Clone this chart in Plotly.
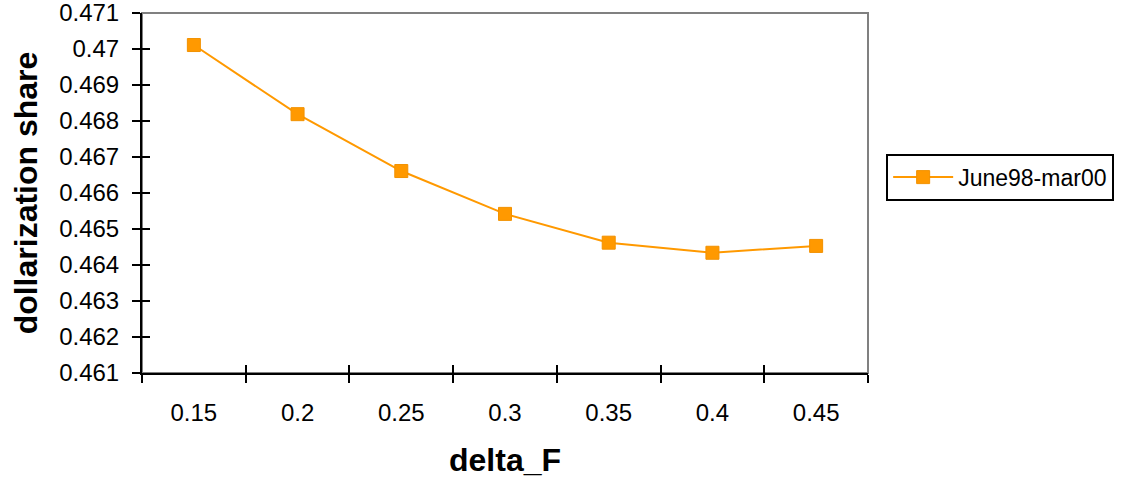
import plotly.graph_objects as go

categories = ["0.15", "0.2", "0.25", "0.3", "0.35", "0.4", "0.45"]
share_values = [0.47011, 0.46819, 0.46661, 0.46542, 0.46462, 0.46434, 0.46453]
series_name = "June98-mar00"
y_ticks = [0.461, 0.462, 0.463, 0.464, 0.465, 0.466, 0.467, 0.468, 0.469, 0.47, 0.471]
y_tick_labels = ["0.461", "0.462", "0.463", "0.464", "0.465", "0.466", "0.467", "0.468", "0.469", "0.47", "0.471"]

ORANGE = "#FF9900"
FONT = "Liberation Sans, Arial, sans-serif"

fig = go.Figure()
fig.add_trace(go.Scatter(
    x=categories, y=share_values, name=series_name,
    mode="lines+markers",
    line=dict(color=ORANGE, width=2),
    marker=dict(symbol="square", size=13, color=ORANGE, line=dict(color="#F29100", width=1)),
))
# invisible trace on overlay axes (for crossing tick marks)
fig.add_trace(go.Scatter(
    x=categories, y=share_values, xaxis="x2", yaxis="y2",
    mode="markers", marker=dict(opacity=0), showlegend=False, hoverinfo="skip",
))

fig.update_layout(
    width=1135, height=478,
    margin=dict(l=142, r=267, t=13, b=105, autoexpand=False),
    paper_bgcolor="white", plot_bgcolor="white",
    font=dict(family=FONT, color="black", size=22),
    showlegend=True,
    legend=dict(
        x=1.025, y=0.544, xanchor="left", yanchor="middle",
        bordercolor="black", borderwidth=2, bgcolor="white",
        font=dict(size=23, family=FONT),
        itemwidth=60,
    ),
    xaxis=dict(
        type="category", categoryorder="array", categoryarray=categories,
        automargin=False, ticklabeloverflow="allow",
        tickson="boundaries", ticks="outside", ticklen=8, tickwidth=2, tickcolor="black",
        showline=True, linecolor="black", linewidth=2, showgrid=False, zeroline=False,
        tickfont=dict(size=24), ticklabelstandoff=17,
        title=dict(text="<b>delta_F</b>", font=dict(size=32), standoff=28),
        range=[-0.5, 6.5],
    ),
    yaxis=dict(
        range=[0.461, 0.471], tickvals=y_ticks, ticktext=y_tick_labels,
        automargin=False, ticklabeloverflow="allow",
        ticks="outside", ticklen=8, tickwidth=2, tickcolor="black",
        showline=True, linecolor="black", linewidth=2, showgrid=False, zeroline=False,
        tickfont=dict(size=24), ticklabelstandoff=8,
        title=dict(text="<b>dollarization share</b>", font=dict(size=32), standoff=12),
    ),
    xaxis2=dict(
        overlaying="x", matches="x", type="category", categoryorder="array", categoryarray=categories,
        automargin=False,
        tickson="boundaries", ticks="inside", ticklen=8, tickwidth=2, tickcolor="black",
        showticklabels=False, showline=False, showgrid=False, zeroline=False,
    ),
    yaxis2=dict(
        overlaying="y", matches="y", tickvals=y_ticks, automargin=False,
        ticks="inside", ticklen=8, tickwidth=2, tickcolor="black",
        showticklabels=False, showline=False, showgrid=False, zeroline=False,
    ),
    shapes=[dict(type="rect", xref="paper", yref="paper", x0=0, x1=1, y0=0, y1=1,
                 line=dict(color="#808080", width=2), layer="below")],
)

fig.write_html("out.html", config={"displayModeBar": False},
               post_script="document.body.style.margin='0';")
